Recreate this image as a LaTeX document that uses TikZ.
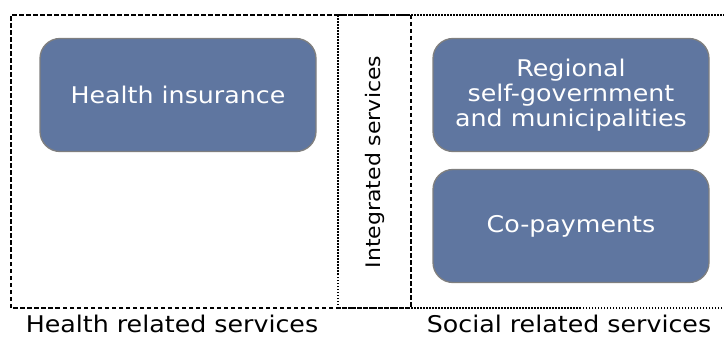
\documentclass[tikz,border=0pt]{standalone}
\usepackage{fontspec}
\setmainfont{DejaVu Sans}[FakeStretch=1.1]
\definecolor{boxblue}{HTML}{5F76A0}
\definecolor{boxrim}{HTML}{7F7F7F}

\begin{document}
\begin{tikzpicture}[x=1pt,y=1pt]
\tikzset{fund/.style={draw=boxrim, line width=1.3pt, fill=boxblue, rounded corners=20pt,
    text=white, font=\fontsize{23}{25}\selectfont, align=center,
    minimum width=276pt, minimum height=113pt, inner sep=0pt},
  sector/.style={font=\fontsize{23}{26}\selectfont, inner sep=0pt},
  area/.style={draw, line width=1.5pt}}
\useasboundingbox (0,0) rectangle (724,338);
% service areas
\draw[area, dash pattern=on 4.5pt off 2.5pt] (11,30) rectangle (411,323);
\draw[area, dash pattern=on 1.5pt off 1.5pt] (338,30) rectangle (735,323);
\node[sector, rotate=90, font=\fontsize{20}{22}\selectfont] (integ) at (375,176) {Integrated services};
% funding sources
\node[fund] (insur) at (178,243) {Health insurance};
\node[fund] (region) at (571,243) {Regional\\self-government\\and municipalities};
\node[fund] (copay) at (571,112) {Co-payments};
% area labels
\node[sector, anchor=base] (health) at (172,6) {Health related services};
\node[sector, anchor=base] (social) at (569,6) {Social related services};
\end{tikzpicture}
\end{document}
